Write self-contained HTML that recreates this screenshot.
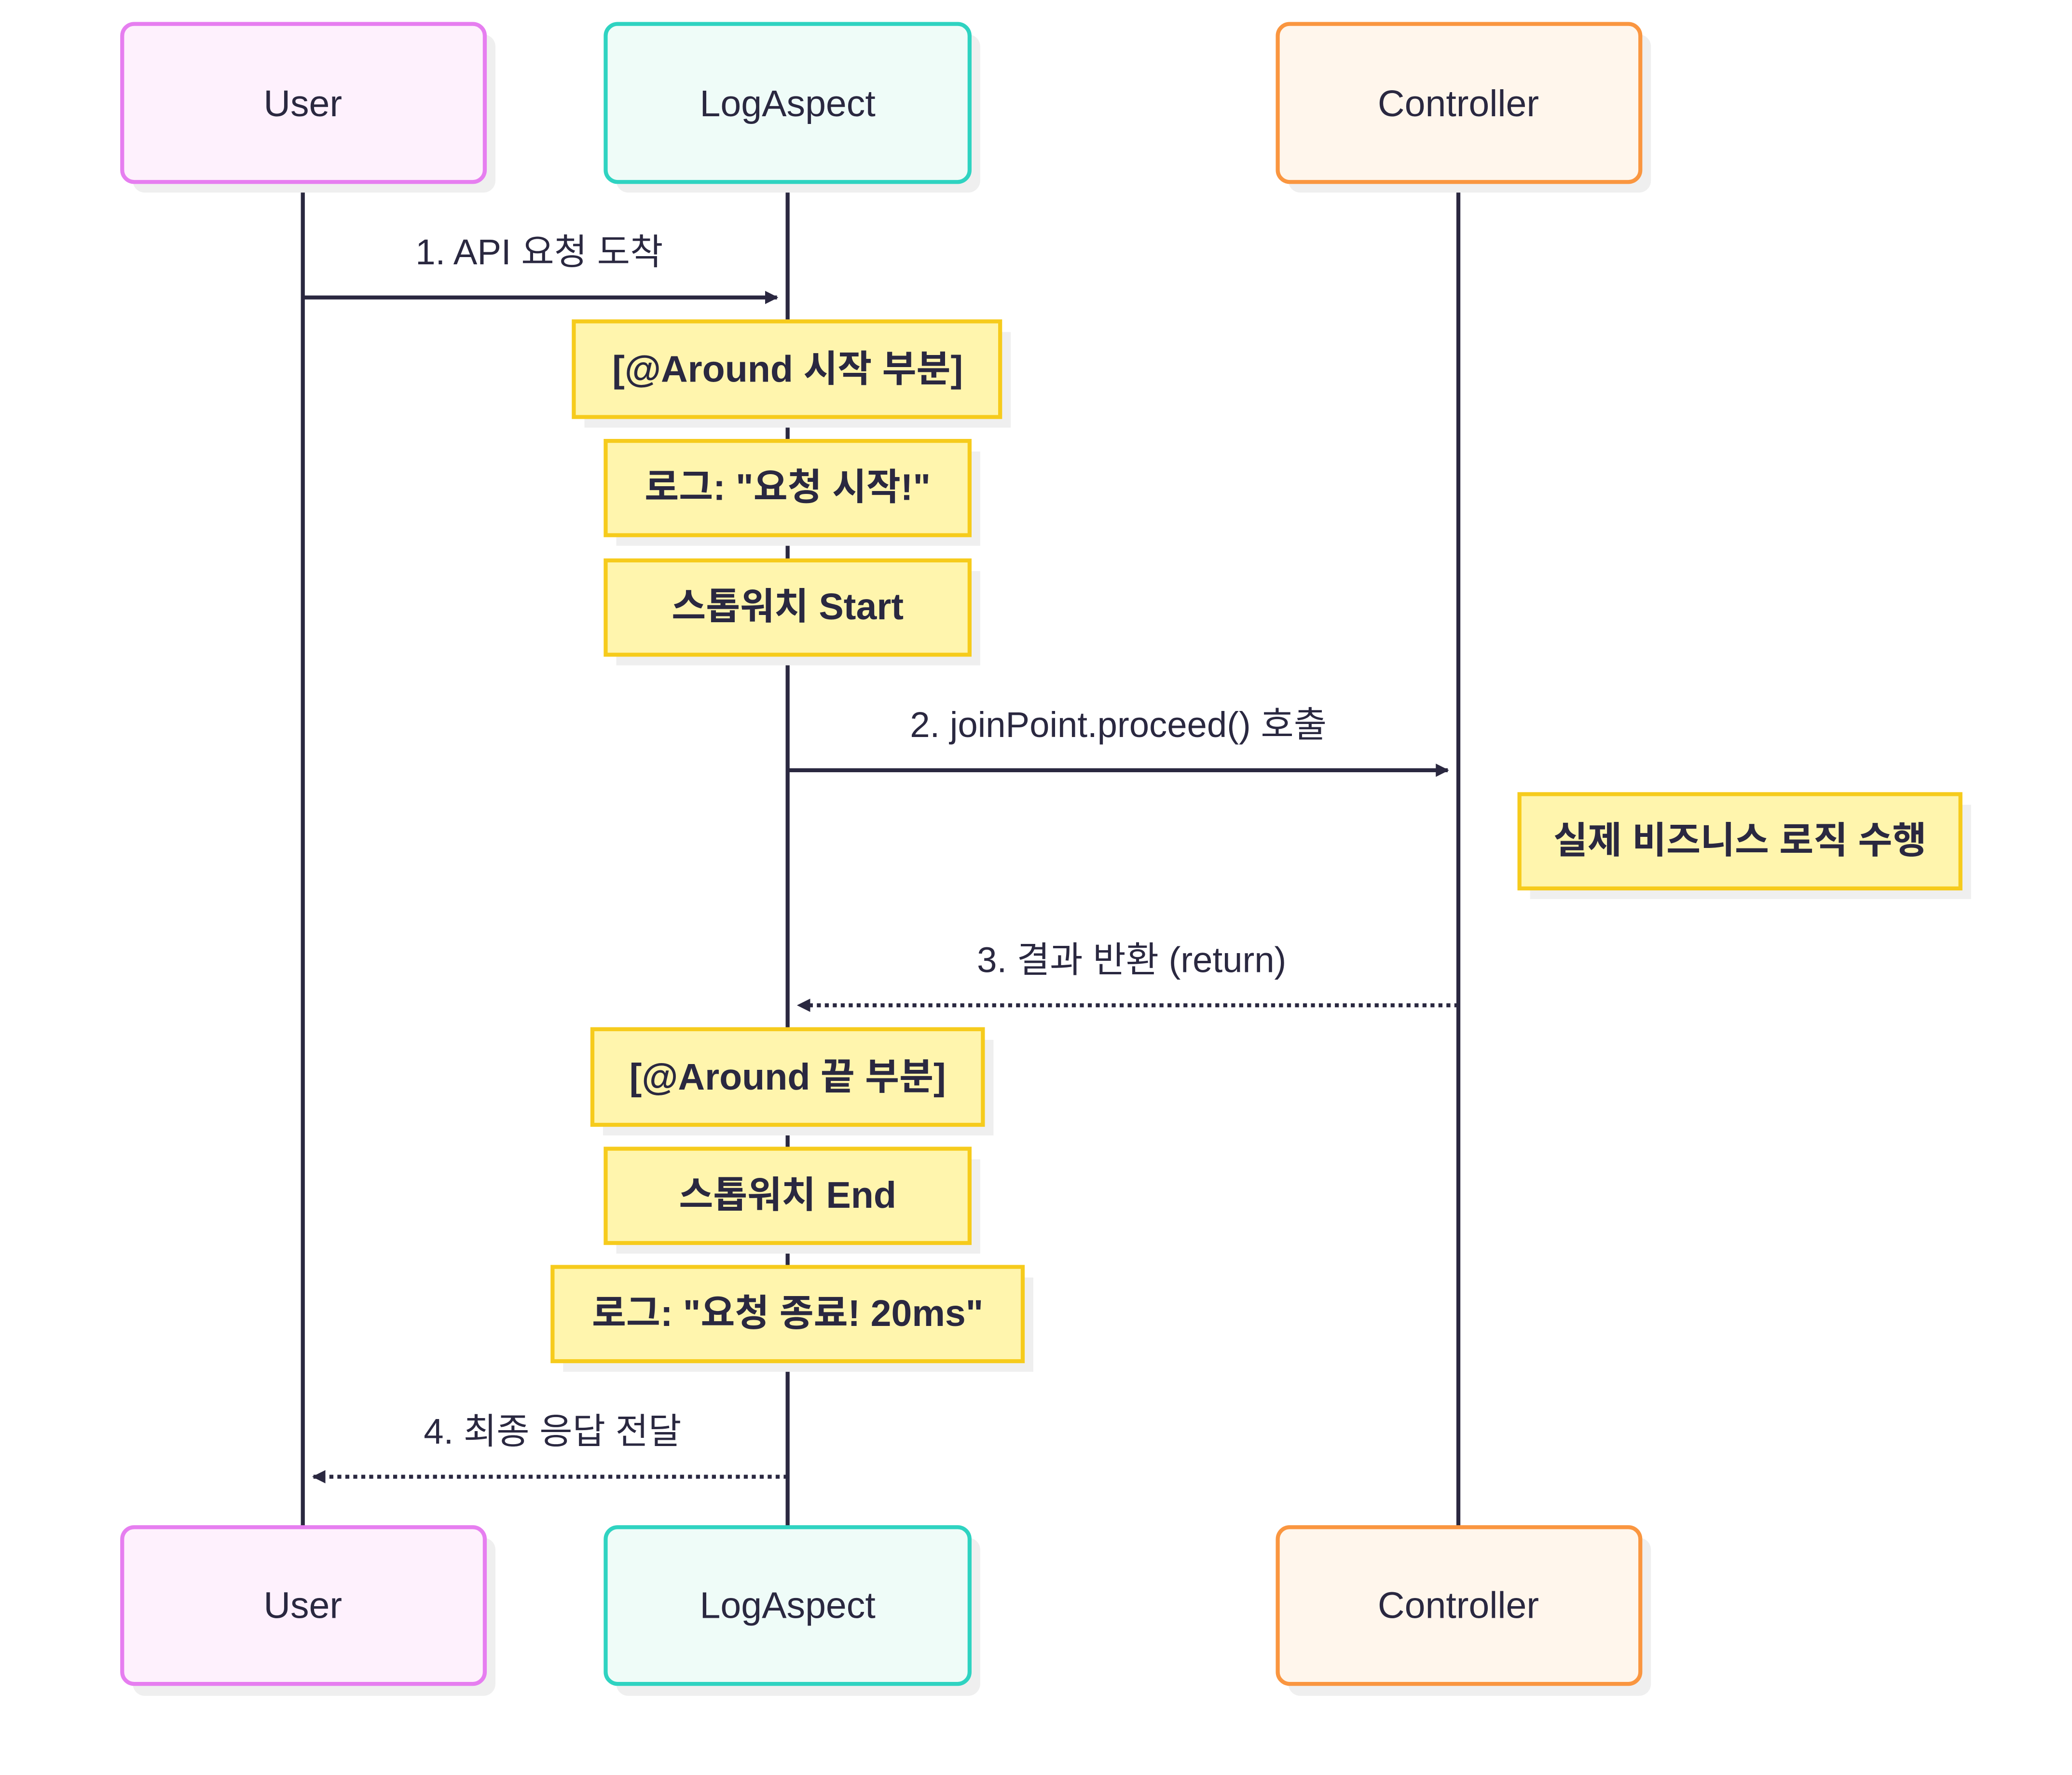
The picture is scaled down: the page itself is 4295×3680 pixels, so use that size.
<!DOCTYPE html>
<html><head><meta charset="utf-8"><style>
html,body{margin:0;padding:0;background:#fff}
svg{display:block}
text{font-family:"Liberation Sans","Noto Sans CJK KR",sans-serif;fill:#2a2840}
.a{font-size:28px;text-anchor:middle;dominant-baseline:central}
.m{font-size:27px;text-anchor:middle}
.n{font-size:28px;font-weight:bold;text-anchor:middle;dominant-baseline:central}
</style></head><body>
<svg width="4295" height="3680" viewBox="0 0 1560 1336.6" xmlns="http://www.w3.org/2000/svg">
<defs>
<marker id="ar" markerWidth="10" markerHeight="10" refX="9" refY="5" orient="auto" markerUnits="userSpaceOnUse" viewBox="0 0 10 10"><path d="M0,0 L10,5 L0,10 z" fill="#2a2840"/></marker>
</defs>
<g stroke="#2a2840" stroke-width="3">
<line x1="228" y1="137" x2="228" y2="1150"/>
<line x1="593" y1="137" x2="593" y2="1150"/>
<line x1="1098" y1="137" x2="1098" y2="1150"/>
</g>
<!-- actors -->
<g>
<rect x="100" y="26" width="273" height="119" rx="9" fill="#efefef"/>
<rect x="464" y="26" width="274" height="119" rx="9" fill="#efefef"/>
<rect x="970" y="26" width="273" height="119" rx="9" fill="#efefef"/>
<rect x="92" y="18" width="273" height="119" rx="9" fill="#fef1fd" stroke="#e67ef0" stroke-width="3"/>
<rect x="456" y="18" width="274" height="119" rx="9" fill="#effcf8" stroke="#2fd3c1" stroke-width="3"/>
<rect x="962" y="18" width="273" height="119" rx="9" fill="#fff6ec" stroke="#fa9640" stroke-width="3"/>
<text class="a" x="228" y="78">User</text>
<text class="a" x="593" y="78">LogAspect</text>
<text class="a" x="1098" y="78">Controller</text>

<rect x="100" y="1158" width="273" height="119" rx="9" fill="#efefef"/>
<rect x="464" y="1158" width="274" height="119" rx="9" fill="#efefef"/>
<rect x="970" y="1158" width="273" height="119" rx="9" fill="#efefef"/>
<rect x="92" y="1150" width="273" height="118" rx="9" fill="#fef1fd" stroke="#e67ef0" stroke-width="3"/>
<rect x="456" y="1150" width="274" height="118" rx="9" fill="#effcf8" stroke="#2fd3c1" stroke-width="3"/>
<rect x="962" y="1150" width="273" height="118" rx="9" fill="#fff6ec" stroke="#fa9640" stroke-width="3"/>
<text class="a" x="228" y="1209">User</text>
<text class="a" x="593" y="1209">LogAspect</text>
<text class="a" x="1098" y="1209">Controller</text>
</g>
<!-- messages -->
<text class="m" x="406" y="199">1. API 요청 도착</text>
<line x1="228" y1="224" x2="585" y2="224" stroke="#2a2840" stroke-width="3" marker-end="url(#ar)"/>
<text class="m" x="842" y="555">2. joinPoint.proceed() 호출</text>
<line x1="593" y1="580" x2="1090" y2="580" stroke="#2a2840" stroke-width="3" marker-end="url(#ar)"/>
<text class="m" x="852" y="732">3. 결과 반환 (return)</text>
<line x1="1098" y1="757" x2="601" y2="757" stroke="#2a2840" stroke-width="3" stroke-dasharray="3,3" marker-end="url(#ar)"/>
<text class="m" x="416" y="1087">4. 최종 응답 전달</text>
<line x1="593" y1="1112" x2="236" y2="1112" stroke="#2a2840" stroke-width="3" stroke-dasharray="3,3" marker-end="url(#ar)"/>
<!-- notes -->
<g fill="#efefef">
<rect x="440" y="250" width="321" height="72"/>
<rect x="464" y="340" width="274" height="71"/>
<rect x="464" y="430" width="274" height="71"/>
<rect x="1152" y="606" width="332" height="71"/>
<rect x="454" y="783" width="294" height="72"/>
<rect x="464" y="873" width="274" height="71"/>
<rect x="424" y="962" width="354" height="71"/>
</g>
<g fill="#fff5ad" stroke="#f6cb1c" stroke-width="3">
<rect x="432" y="242" width="321" height="72"/>
<rect x="456" y="332" width="274" height="71"/>
<rect x="456" y="422" width="274" height="71"/>
<rect x="1144" y="598" width="332" height="71"/>
<rect x="446" y="775" width="294" height="72"/>
<rect x="456" y="865" width="274" height="71"/>
<rect x="416" y="954" width="354" height="71"/>
</g>
<text class="n" x="593" y="278">[@Around 시작 부분]</text>
<text class="n" x="593" y="367">로그: "요청 시작!"</text>
<text class="n" x="593" y="457">스톱워치 Start</text>
<text class="n" x="1310" y="633">실제 비즈니스 로직 수행</text>
<text class="n" x="593" y="811">[@Around 끝 부분]</text>
<text class="n" x="593" y="900">스톱워치 End</text>
<text class="n" x="593" y="989">로그: "요청 종료! 20ms"</text>
</svg>
</body></html>
